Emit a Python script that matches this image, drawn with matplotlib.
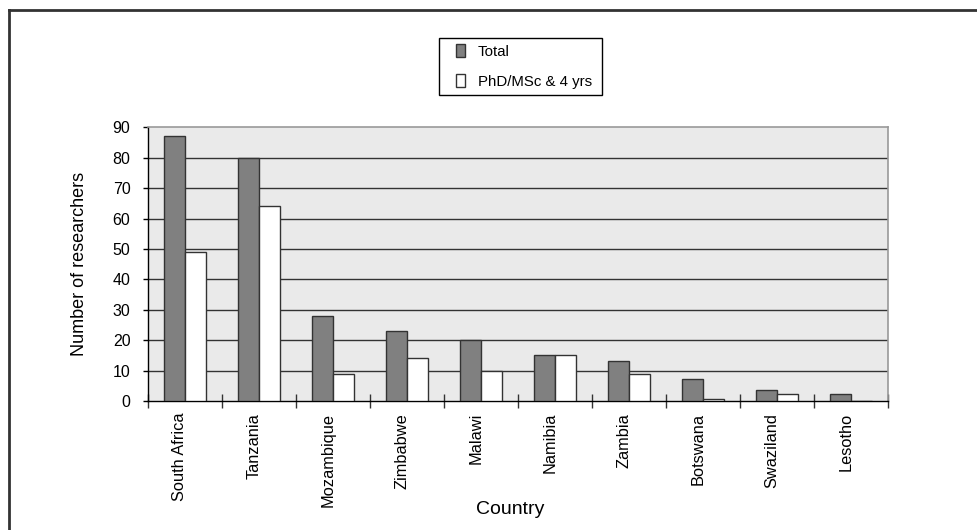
import matplotlib
matplotlib.use('Agg')

import matplotlib.pyplot as plt
import matplotlib.transforms as mtrans
import numpy as np
from matplotlib.patches import Patch, Rectangle
from matplotlib.lines import Line2D

# researchers per country
countries = ['South Africa', 'Tanzania', 'Mozambique', 'Zimbabwe', 'Malawi',
             'Namibia', 'Zambia', 'Botswana', 'Swaziland', 'Lesotho']
total = [87, 80, 28, 23, 20, 15, 13, 7.3, 3.5, 2.2]
phd_msc = [49, 64, 9, 14, 10, 15, 9, 0.6, 2.2, 0]
series_names = ['Total', 'PhD/MSc & 4 yrs']
y_ticks = [0, 10, 20, 30, 40, 50, 60, 70, 80, 90]

plt.rcParams['font.family'] = ['Liberation Sans', 'DejaVu Sans']

W, H = 978, 530
fig = plt.figure(figsize=(W / 100, H / 100), dpi=100)
ax = fig.add_axes([148 / W, 1 - 401 / H, 740 / W, 273.7 / H])
ax.set_facecolor('#EAEAEA')

x = np.arange(len(countries))
bw = 0.29
ax.bar(x - bw / 2, total, bw, color='#808080', edgecolor='#333333', linewidth=1, zorder=3)
ax.bar(x + bw / 2, phd_msc, bw, color='white', edgecolor='#333333', linewidth=1, zorder=3)

ax.set_xlim(-0.5, len(countries) - 0.5)
ax.set_ylim(0, 90)
ax.set_yticks(y_ticks)
ax.tick_params(axis='y', direction='out', length=3.6, width=1, labelsize=11.5, pad=9)

# category separators as major ticks, names as minor ticks
ax.set_xticks(np.arange(len(countries) + 1) - 0.5)
ax.set_xticklabels([])
ax.tick_params(axis='x', which='major', direction='inout', length=9.4, width=1, color='#333333')
ax.set_xticks(x, minor=True)
ax.set_xticklabels(countries, minor=True, rotation=90, fontsize=11.8, va='top')
ax.tick_params(axis='x', which='minor', length=0, pad=8.5)
shift = mtrans.ScaledTranslation(-5 / 100, 0, fig.dpi_scale_trans)
for lab in ax.get_xticklabels(minor=True):
    lab.set_transform(lab.get_transform() + shift)

for v in y_ticks[1:-1]:
    ax.axhline(v, color='#333333', linewidth=1, zorder=1)

for s in ['top', 'right']:
    ax.spines[s].set_color('#999999')
    ax.spines[s].set_linewidth(1.2)
for s in ['left', 'bottom']:
    ax.spines[s].set_color('black')
    ax.spines[s].set_linewidth(1)

ax.set_ylabel('Number of researchers', fontsize=13)
ax.yaxis.set_label_coords(-0.081, 0.5)
ax.set_xlabel('Country', fontsize=14)
ax.xaxis.set_label_coords(0.49, -0.365)

# legend: box drawn by hand so the padding can be uneven like the original
fig.add_artist(Rectangle((439 / W, 1 - 95 / H), 163 / W, 57 / H, transform=fig.transFigure,
                         facecolor='white', edgecolor='black', linewidth=1, zorder=5))
handles = [Patch(facecolor='#808080', edgecolor='#333333', linewidth=1),
           Patch(facecolor='white', edgecolor='#333333', linewidth=1)]
leg = fig.legend(handles, series_names, loc='upper left',
                 bbox_to_anchor=(456 / W, 1 - 44 / H), borderaxespad=0,
                 fontsize=10.8, handlelength=0.6, handleheight=1.0,
                 labelspacing=1.0, handletextpad=0.85, borderpad=0,
                 frameon=False)
leg.set_zorder(6)

# outer frame (top and left edges only)
fig.add_artist(Line2D([9 / W, 1], [1 - 10 / H, 1 - 10 / H], color='#333333', linewidth=2))
fig.add_artist(Line2D([9 / W, 9 / W], [0, 1 - 10 / H], color='#333333', linewidth=2))

fig.savefig('out.png', dpi=100)
